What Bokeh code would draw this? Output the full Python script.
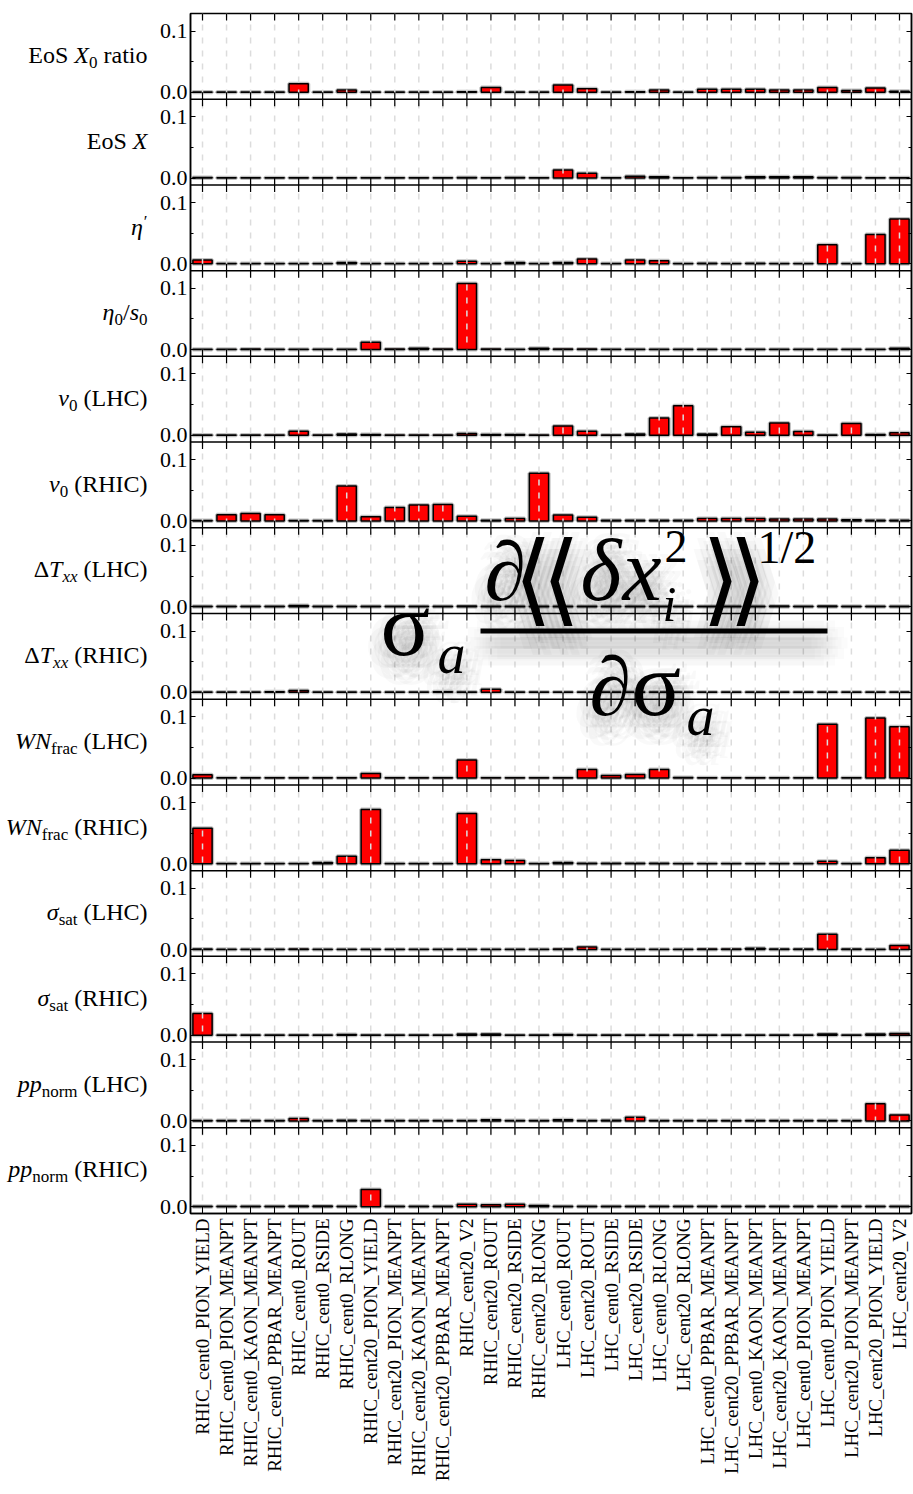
import math
from bokeh.plotting import figure
from bokeh.layouts import row
from bokeh.models import (FactorRange, Range1d, LinearAxis, FixedTicker, CustomJSTickFormatter,
                          ColumnDataSource, Label, BoxAnnotation, Span)
from bokeh.embed import file_html
from bokeh.resources import INLINE

# ---------------- data ----------------
categories = [
    "RHIC_cent0_PION_YIELD", "RHIC_cent0_PION_MEANPT", "RHIC_cent0_KAON_MEANPT",
    "RHIC_cent0_PPBAR_MEANPT", "RHIC_cent0_ROUT", "RHIC_cent0_RSIDE", "RHIC_cent0_RLONG",
    "RHIC_cent20_PION_YIELD", "RHIC_cent20_PION_MEANPT", "RHIC_cent20_KAON_MEANPT",
    "RHIC_cent20_PPBAR_MEANPT", "RHIC_cent20_V2", "RHIC_cent20_ROUT", "RHIC_cent20_RSIDE",
    "RHIC_cent20_RLONG", "LHC_cent0_ROUT", "LHC_cent20_ROUT", "LHC_cent0_RSIDE",
    "LHC_cent20_RSIDE", "LHC_cent0_RLONG", "LHC_cent20_RLONG", "LHC_cent0_PPBAR_MEANPT",
    "LHC_cent20_PPBAR_MEANPT", "LHC_cent0_KAON_MEANPT", "LHC_cent20_KAON_MEANPT",
    "LHC_cent0_PION_MEANPT", "LHC_cent0_PION_YIELD", "LHC_cent20_PION_MEANPT",
    "LHC_cent20_PION_YIELD", "LHC_cent20_V2",
]

eos_x0_ratio = [0.0005, 0.0005, 0.0005, 0.0005, 0.014, 0.0005, 0.004, 0.0005, 0.0005, 0.0005,
                0.0005, 0.001, 0.008, 0.0005, 0.0005, 0.012, 0.006, 0.0005, 0.001, 0.004,
                0.0005, 0.005, 0.005, 0.005, 0.004, 0.004, 0.008, 0.003, 0.007, 0.002]
eos_x = [0.001, 0.0005, 0.0005, 0.0005, 0.0005, 0.0005, 0.0005, 0.0005, 0.0005, 0.0005,
         0.0005, 0.001, 0.0005, 0.001, 0.0005, 0.013, 0.008, 0.0005, 0.003, 0.002,
         0.0005, 0.001, 0.001, 0.002, 0.002, 0.002, 0.001, 0.001, 0.0005, 0.0005]
eta_prime = [0.006, 0.0005, 0.0005, 0.0005, 0.0005, 0.0005, 0.002, 0.0005, 0.0005, 0.0005,
             0.0005, 0.004, 0.0005, 0.002, 0.0005, 0.002, 0.008, 0.0005, 0.006, 0.005,
             0.0005, 0.001, 0.0005, 0.001, 0.0005, 0.0005, 0.031, 0.0005, 0.048, 0.073]
eta0_s0 = [0.0005, 0.0005, 0.001, 0.0005, 0.0005, 0.0005, 0.0005, 0.012, 0.001, 0.002,
           0.001, 0.108, 0.001, 0.0005, 0.002, 0.001, 0.001, 0.0005, 0.0005, 0.0005,
           0.0005, 0.0005, 0.0005, 0.0005, 0.0005, 0.0005, 0.0005, 0.0005, 0.0005, 0.002]
v0_lhc = [0.0005, 0.0005, 0.0005, 0.0005, 0.0065, 0.0005, 0.002, 0.001, 0.0005, 0.0005,
          0.0005, 0.003, 0.001, 0.001, 0.0005, 0.015, 0.0065, 0.0005, 0.002, 0.028,
          0.048, 0.002, 0.014, 0.005, 0.020, 0.006, 0.0005, 0.019, 0.001, 0.004]
v0_rhic = [0.0005, 0.010, 0.012, 0.010, 0.0005, 0.0005, 0.057, 0.007, 0.022, 0.026,
           0.027, 0.0075, 0.001, 0.004, 0.078, 0.0095, 0.006, 0.001, 0.001, 0.001,
           0.001, 0.004, 0.004, 0.004, 0.003, 0.003, 0.003, 0.002, 0.001, 0.001]
dtxx_lhc = [0.0005, 0.0005, 0.0005, 0.0005, 0.002, 0.0005, 0.0005, 0.0005, 0.0005, 0.0005,
            0.0005, 0.001, 0.0005, 0.0005, 0.0005, 0.0005, 0.0005, 0.0005, 0.0005, 0.0005,
            0.0005, 0.0005, 0.0005, 0.0005, 0.001, 0.0005, 0.001, 0.0005, 0.0005, 0.0005]
dtxx_rhic = [0.0005, 0.0005, 0.0005, 0.001, 0.003, 0.0005, 0.0005, 0.0005, 0.0005, 0.0005,
             0.001, 0.0005, 0.005, 0.0005, 0.0005, 0.0005, 0.0005, 0.0005, 0.0005, 0.0005,
             0.0005, 0.0005, 0.0005, 0.0005, 0.0005, 0.0005, 0.0005, 0.0005, 0.0005, 0.0005]
wn_lhc = [0.0055, 0.0005, 0.0005, 0.0005, 0.0005, 0.0005, 0.0005, 0.0075, 0.0005, 0.0005,
          0.0005, 0.0295, 0.0005, 0.0005, 0.0005, 0.0005, 0.014, 0.004, 0.006, 0.014,
          0.001, 0.0005, 0.0005, 0.0005, 0.0005, 0.0005, 0.088, 0.0005, 0.098, 0.084]
wn_rhic = [0.058, 0.0005, 0.0005, 0.0005, 0.0005, 0.002, 0.0125, 0.0885, 0.0005, 0.0005,
           0.0005, 0.082, 0.0065, 0.0055, 0.0005, 0.002, 0.001, 0.001, 0.001, 0.001,
           0.0005, 0.0005, 0.0005, 0.0005, 0.0005, 0.0005, 0.004, 0.0005, 0.010, 0.022]
sat_lhc = [0.001, 0.0005, 0.0005, 0.0005, 0.001, 0.0005, 0.0005, 0.0005, 0.0005, 0.0005,
           0.0005, 0.0005, 0.0005, 0.0005, 0.0005, 0.001, 0.004, 0.0005, 0.0005, 0.0005,
           0.0005, 0.001, 0.001, 0.002, 0.001, 0.001, 0.025, 0.001, 0.0005, 0.0065]
sat_rhic = [0.0355, 0.0005, 0.0005, 0.0005, 0.0005, 0.0005, 0.001, 0.0005, 0.0005, 0.0005,
            0.0005, 0.002, 0.002, 0.0005, 0.0005, 0.001, 0.0005, 0.0005, 0.0005, 0.0005,
            0.0005, 0.0005, 0.0005, 0.0005, 0.0005, 0.0005, 0.002, 0.0005, 0.002, 0.003]
pp_lhc = [0.0005, 0.0005, 0.0005, 0.0005, 0.004, 0.0005, 0.001, 0.0005, 0.0005, 0.0005,
          0.0005, 0.0005, 0.002, 0.0005, 0.0005, 0.002, 0.0005, 0.001, 0.006, 0.0005,
          0.0005, 0.0005, 0.0005, 0.0005, 0.0005, 0.0005, 0.0005, 0.0005, 0.028, 0.0095]
pp_rhic = [0.0005, 0.0005, 0.0005, 0.0005, 0.001, 0.001, 0.0005, 0.028, 0.0005, 0.0005,
           0.0005, 0.004, 0.003, 0.004, 0.002, 0.0005, 0.0005, 0.0005, 0.0005, 0.0005,
           0.0005, 0.0005, 0.0005, 0.0005, 0.0005, 0.0005, 0.0005, 0.0005, 0.0005, 0.0005]

panel_values = [eos_x0_ratio, eos_x, eta_prime, eta0_s0, v0_lhc, v0_rhic, dtxx_lhc,
                dtxx_rhic, wn_lhc, wn_rhic, sat_lhc, sat_rhic, pp_lhc, pp_rhic]

# panel labels as runs of (text, style): n = roman, i = italic, sub = roman subscript, subi = italic subscript
panel_labels = [
    [("EoS ", "n"), ("X", "i"), ("0", "sub"), (" ratio", "n")],
    [("EoS ", "n"), ("X", "i")],
    [("η", "i"), ("′", "sup")],
    [("η", "i"), ("0", "sub"), ("/", "n"), ("s", "i"), ("0", "sub")],
    [("v", "i"), ("0", "sub"), (" (LHC)", "n")],
    [("v", "i"), ("0", "sub"), (" (RHIC)", "n")],
    [("Δ", "n"), ("T", "i"), ("xx", "subi"), (" (LHC)", "n")],
    [("Δ", "n"), ("T", "i"), ("xx", "subi"), (" (RHIC)", "n")],
    [("WN", "i"), ("frac", "sub"), (" (LHC)", "n")],
    [("WN", "i"), ("frac", "sub"), (" (RHIC)", "n")],
    [("σ", "i"), ("sat", "sub"), (" (LHC)", "n")],
    [("σ", "i"), ("sat", "sub"), (" (RHIC)", "n")],
    [("pp", "i"), ("norm", "sub"), (" (LHC)", "n")],
    [("pp", "i"), ("norm", "sub"), (" (RHIC)", "n")],
]

# ---------------- geometry ----------------
FONT = "Liberation Serif"
NP = len(panel_values)
H = 0.14          # data height of one panel
Z0 = 0.0112       # zero offset from panel bottom
YMAX = NP * H
PLOT_H = 1494
LAB_W = 150                       # width of the label strip
MAIN_W = 913 - LAB_W
FL, FT, FW, FH = 190, 13, 721, 1200
PPU = FH / YMAX
PPX = FW / len(categories)
MID = 0.34                         # baseline -> text middle, in em


def base(k):
    return (NP - 1 - k) * H + Z0


def px_x(px):
    return (px - FL) / PPX


def px_y(py):
    return (FT + FH - py) / PPU


p = figure(width=MAIN_W, height=PLOT_H, x_range=FactorRange(factors=categories),
           y_range=Range1d(0, YMAX), output_backend="svg", toolbar_location=None,
           min_border_left=FL - LAB_W, min_border_right=2, min_border_top=FT,
           min_border_bottom=PLOT_H - FT - FH)
p.xgrid.visible = False
p.ygrid.visible = False
p.outline_line_color = "black"
p.outline_line_width = 1.5
p.background_fill_color = "white"
p.border_fill_color = "white"

# ---------------- bars ----------------
xs, tops, bottoms = [], [], []
for k, vals in enumerate(panel_values):
    b = base(k)
    for c, v in zip(categories, vals):
        xs.append(c)
        bottoms.append(b)
        tops.append(b + v)
src = ColumnDataSource(dict(x=xs, top=tops, bottom=bottoms))
p.vbar(x="x", top="top", bottom="bottom", width=0.8, source=src, fill_color=None,
       line_color="#8a8a8a", line_width=4, line_alpha=0.55)
p.vbar(x="x", top="top", bottom="bottom", width=0.8, source=src, fill_color="#ff0000",
       line_color="black", line_width=1.5)

# vertical dashed grid (drawn over bars)
p.segment(x0=categories, y0=[0] * len(categories), x1=categories, y1=[YMAX] * len(categories),
          line_color="#dcdcdc", line_width=1.5, line_dash="6 7")

# panel separators
for k in range(1, NP):
    p.add_layout(Span(location=k * H, dimension="width", line_color="black", line_width=1.5))

# x ticks at every panel boundary
t = 7 / PPU
tx, ty0, ty1 = [], [], []
for k in range(1, NP):
    yb = k * H
    for c in categories:
        tx.append(c); ty0.append(yb - t); ty1.append(yb + t)
for c in categories:
    tx.append(c); ty0.append(YMAX - t); ty1.append(YMAX)
p.segment(x0=tx, y0=ty0, x1=tx, y1=ty1, line_color="black", line_width=1.2)

# ---------------- axes ----------------
major = []
minor = []
for k in range(NP):
    b = base(k)
    major += [b, b + 0.1]
    minor += [b + 0.05]
ticker = FixedTicker(ticks=major, minor_ticks=minor)
fmt_code = ("const r = tick - %r; const m = r - %r*Math.floor((r + 1e-6)/%r);"
            " return (m > 0.05) ? '0.1' : '0.0';") % (Z0, H, H)

ya = p.yaxis[0]
ya.ticker = ticker
ya.formatter = CustomJSTickFormatter(code=fmt_code)
ya.major_tick_in = 5
ya.major_tick_out = 0
ya.minor_tick_in = 3
ya.minor_tick_out = 0
ya.axis_line_color = "black"
ya.axis_line_width = 1.5
ya.major_label_text_font = FONT
ya.major_label_text_font_size = "22px"
ya.major_label_text_color = "black"
ya.major_label_standoff = 3

ra = LinearAxis(ticker=ticker, formatter=CustomJSTickFormatter(code="return '';"),
                major_tick_in=5, major_tick_out=0, minor_tick_in=3, minor_tick_out=0,
                major_label_standoff=0, axis_line_color="black", axis_line_width=1.5)
p.add_layout(ra, "right")

xa = p.xaxis[0]
xa.major_label_orientation = math.pi / 2
xa.major_label_text_font = FONT
xa.major_label_text_font_size = "19px"
xa.major_label_text_color = "black"
xa.major_tick_in = 7
xa.major_tick_out = 0
xa.axis_line_color = "black"
xa.axis_line_width = 1.5
xa.major_label_standoff = 5

# ---------------- panel labels (left strip) ----------------
lab = figure(width=LAB_W, height=PLOT_H, x_range=Range1d(0, LAB_W), y_range=Range1d(0, YMAX),
             output_backend="svg", toolbar_location=None, x_axis_location=None,
             y_axis_location=None, min_border_left=0, min_border_right=0, min_border_top=FT,
             min_border_bottom=PLOT_H - FT - FH)
lab.xgrid.visible = False
lab.ygrid.visible = False
lab.outline_line_color = None
lab.background_fill_color = "white"
lab.border_fill_color = "white"

REG_W = {' ': 250, 'E': 611, 'o': 500, 'S': 556, 'r': 333, 'a': 444, 't': 278, 'i': 278,
         '(': 333, ')': 333, 'L': 611, 'H': 722, 'C': 667, 'R': 667, 'I': 333, 'Δ': 612,
         '/': 278, '0': 500, 'f': 333, 'c': 444, 's': 389, 'n': 500, 'm': 778, '′': 275}
ITA_W = {'X': 611, 'η': 500, 'v': 444, 's': 389, 'T': 556, 'x': 444, 'W': 833, 'N': 667,
         'σ': 540, 'p': 500}
MAIN_PX = 24
SUB_PX = 17


def run_size(style):
    return SUB_PX if style in ("sub", "subi", "sup") else MAIN_PX


def text_w(text, style):
    table = ITA_W if style in ("i", "subi") else REG_W
    return sum(table.get(ch, 500) for ch in text) / 1000.0 * run_size(style)


for k, runs in enumerate(panel_labels):
    center_py = FT + (k + 0.5) * FH / NP
    base_py = center_py + 7
    cursor = 147.0
    for text, style in reversed(runs):
        w = text_w(text, style)
        trail = len(text) - len(text.rstrip(" "))
        right = cursor - text_w(" " * trail, style)
        size = run_size(style)
        if style in ("sub", "subi"):
            bpy = base_py + 5
        elif style == "sup":
            bpy = base_py - 8
        else:
            bpy = base_py
        mid_py = bpy - MID * size
        lab.add_layout(Label(x=right, y=px_y(mid_py), text=text.strip(" "),
                             text_align="right", text_baseline="middle",
                             text_font=FONT, text_font_size="%dpx" % size,
                             text_font_style="italic" if style in ("i", "subi") else "normal",
                             text_color="black"))
        cursor -= w

# ---------------- overlay formula ----------------
BR_FONT = "DejaVu Serif"
formula = [
    # text, left px, baseline px (or centre for brackets), size px, style, centred, font
    ("σ", 380, 655, 92, "normal", False, FONT),
    ("a", 437, 673, 56, "italic", False, FONT),
    ("∂", 484, 600, 84, "normal", False, FONT),
    ("⟨", 513, 578, 100, "normal", True, BR_FONT),
    ("⟨", 541, 578, 100, "normal", True, BR_FONT),
    ("δ", 580, 600, 88, "italic", False, FONT),
    ("x", 622, 600, 88, "italic", False, FONT),
    ("i", 662, 620, 50, "italic", False, FONT),
    ("2", 664, 562, 46, "normal", False, FONT),
    ("⟩", 701, 578, 100, "normal", True, BR_FONT),
    ("⟩", 728, 578, 100, "normal", True, BR_FONT),
    ("1/2", 757, 563, 46, "normal", False, FONT),
    ("∂", 589, 715, 84, "normal", False, FONT),
    ("σ", 631, 715, 92, "normal", False, FONT),
    ("a", 686, 735, 56, "italic", False, FONT),
]
BAR = (480, 827, 628, 633)

SH_DX, SH_DY = 2, 12
SHADOW_OFFSETS = [(0, 0)]
for rad, n in ((6, 6), (12, 8), (18, 10)):
    for j in range(n):
        a = 2 * math.pi * j / n
        SHADOW_OFFSETS.append((rad * math.cos(a), rad * math.sin(a)))


def mid_of(by, size, centred):
    return by if centred else by - MID * size


# shadow
for text, lx, by, size, style, centred, font in formula:
    for dx, dy in SHADOW_OFFSETS:
        p.add_layout(Label(x=px_x(lx + SH_DX + dx), y=px_y(mid_of(by, size, centred) + SH_DY + dy),
                           text=text, text_align="left", text_baseline="middle", text_font=font,
                           text_font_size="%dpx" % size, text_font_style=style,
                           text_color="black", text_alpha=0.024))
for dx, dy in SHADOW_OFFSETS:
    p.add_layout(BoxAnnotation(left=px_x(BAR[0] + SH_DX + dx), right=px_x(BAR[1] + SH_DX + dx),
                               top=px_y(BAR[2] + SH_DY + dy - 3), bottom=px_y(BAR[3] + SH_DY + dy + 3),
                               fill_color="black", fill_alpha=0.016, line_alpha=0))

# foreground
for text, lx, by, size, style, centred, font in formula:
    p.add_layout(Label(x=px_x(lx), y=px_y(mid_of(by, size, centred)), text=text,
                       text_align="left", text_baseline="middle", text_font=font,
                       text_font_size="%dpx" % size, text_font_style=style,
                       text_color="black"))
p.add_layout(BoxAnnotation(left=px_x(BAR[0]), right=px_x(BAR[1]), top=px_y(BAR[2]),
                           bottom=px_y(BAR[3]), fill_color="black", fill_alpha=1.0,
                           line_alpha=0))

layout = row(lab, p)
open("out.html", "w").write(file_html(layout, INLINE))
